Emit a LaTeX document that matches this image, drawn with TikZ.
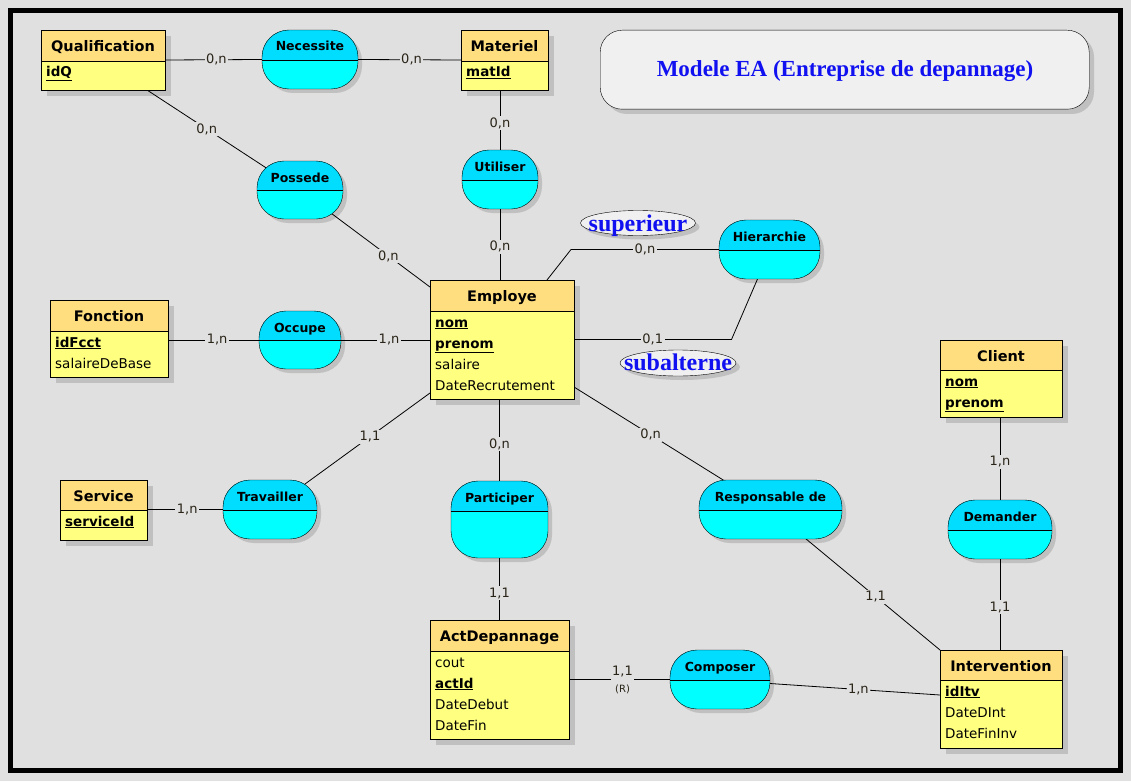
\documentclass[tikz,border=0pt]{standalone}
\usepackage{fontspec}
\setmainfont{DejaVu Sans}
\newfontfamily\titlefont{Liberation Serif}
\pgfdeclarelayer{back}
\pgfdeclarelayer{shade}
\pgfdeclarelayer{links}
\pgfsetlayers{back,shade,links,main}
\definecolor{bgc}{HTML}{E0E0E0}
\definecolor{headc}{HTML}{FFDE80}
\definecolor{bodyc}{HTML}{FFFF80}
\definecolor{cyanb}{HTML}{00FFFF}
\definecolor{cyant}{HTML}{00DDFF}
\definecolor{shadc}{HTML}{C0C0C0}
\definecolor{boxc}{HTML}{F0F0F0}
\definecolor{bluet}{HTML}{1010F0}
\definecolor{cardc}{HTML}{2A2418}
\newcommand\key[1]{\underline{\textbf{#1}}}
\tikzset{
  entbox/.style={rectangle, fill=bodyc, inner sep=0pt, outer sep=0pt},
  assocbox/.style={rectangle, draw, rounded corners=27pt, inner sep=0pt, outer sep=0pt},
  etitle/.style={inner sep=0pt, font=\bfseries\fontsize{14.5}{17}\selectfont},
  aname/.style={inner sep=0pt, font=\bfseries\fontsize{12.5}{15}\selectfont},
  attrib/.style={inner sep=0pt, font=\fontsize{13.5}{16}\selectfont},
  card/.style={fill=bgc, inner sep=1.5pt, text=cardc, font=\fontsize{13}{15}\selectfont},
  titlebox/.style={rectangle, draw, fill=boxc, rounded corners=22pt, inner sep=0pt},
  rolename/.style={inner sep=0pt, text=bluet, font=\titlefont\bfseries\fontsize{24}{28}\selectfont},
  rolefill/.style={draw, fill=boxc},
  link/.style={line width=0.8pt}
}
% #1 name #2 x0 #3 y0 #4 x1 #5 y1 #6 header bottom #7 title #8 attributes
\newcommand\entity[8]{%
  \begin{pgfonlayer}{shade}
    \fill[shadc] (#2+6,#3+6) rectangle (#4+6,#5+6);
  \end{pgfonlayer}
  \node[entbox, minimum width=#4pt-#2pt, minimum height=#5pt-#3pt, anchor=north west] (#1) at (#2,#3) {};
  \fill[headc] (#2,#3) rectangle (#4,#6);
  \draw (#2,#3) rectangle (#4,#5);
  \draw (#2,#6) -- (#4,#6);
  \node[etitle, anchor=base] at ({(#2+#4)/2},#3+21.5) {#7};
  \foreach \attrtext [count=\attrnum from 0] in {#8}
    \node[attrib, anchor=base west] at (#2+5,#6+16+21*\attrnum) {\attrtext};
}
% #1 name #2 x0 #3 y0 #4 x1 #5 y1 #6 middle line #7 text
\newcommand\assoc[7]{%
  \begin{pgfonlayer}{shade}
    \fill[shadc, rounded corners=27pt] (#2+4,#3+4) rectangle (#4+4,#5+4);
  \end{pgfonlayer}
  \begin{scope}[rounded corners=27pt]
    \clip (#2,#3) rectangle (#4,#5);
    \fill[cyanb, sharp corners] (#2,#3) rectangle (#4,#5);
    \fill[cyant, sharp corners] (#2,#3) rectangle (#4,#6);
  \end{scope}
  \node[assocbox, minimum width=#4pt-#2pt, minimum height=#5pt-#3pt, anchor=north west] (#1) at (#2,#3) {};
  \draw (#2,#6) -- (#4,#6);
  \node[aname, anchor=base] at ({(#2+#4)/2},#3+21) {#7};
}
\begin{document}
\begin{tikzpicture}[x=1pt,y=-1pt,line width=0.9pt]
\useasboundingbox (0,0) rectangle (1131,781);
\begin{pgfonlayer}{back}
  \fill[bgc] (0,0) rectangle (1131,781);
\end{pgfonlayer}
\draw[line width=5pt] (10.5,10.5) rectangle (1120.5,770);

% title
\begin{pgfonlayer}{shade}
  \fill[shadc, rounded corners=22pt] (605,35) rectangle (1094,114);
\end{pgfonlayer}
\node[titlebox, minimum width=489pt, minimum height=79pt, anchor=north west] (title) at (600,30) {};
\node[rolename, anchor=base, font=\titlefont\bfseries\fontsize{23}{27}\selectfont] (titletext) at (845,77) {Modele EA (Entreprise de depannage)};

% entities
\entity{qual}{41}{30}{165}{90}{61}{Qualification}{\key{idQ}}
\entity{mat}{461}{30}{548}{90}{61}{Materiel}{\key{matId}}
\entity{emp}{430}{280}{574}{399}{311}{Employe}{\key{nom},\key{prenom},salaire,DateRecrutement}
\entity{fon}{50}{300}{168}{377}{331}{Fonction}{\key{idFcct},salaireDeBase}
\entity{serv}{60}{480}{147}{540}{510}{Service}{\key{serviceId}}
\entity{cli}{940}{340}{1062}{417}{370}{Client}{\key{nom},\key{prenom}}
\entity{int}{940}{650}{1062}{748}{680}{Intervention}{\key{idItv},DateDInt,DateFinInv}
\entity{act}{430}{620}{569}{739}{651}{ActDepannage}{cout,\key{actId},DateDebut,DateFin}

% associations
\assoc{nec}{262}{30}{358}{89}{60}{Necessite}
\assoc{poss}{257}{161}{343}{219}{190}{Possede}
\assoc{uti}{462}{150}{538}{209}{180}{Utiliser}
\assoc{hier}{719}{220}{820}{279}{250}{Hierarchie}
\assoc{occ}{259}{311}{341}{369}{340}{Occupe}
\assoc{trav}{223}{480}{317}{539}{510}{Travailler}
\assoc{part}{451}{481}{548}{558}{511}{Participer}
\assoc{resp}{699}{480}{842}{539}{510}{Responsable de}
\assoc{dem}{948}{500}{1052}{559}{530}{Demander}
\assoc{comp}{670}{650}{770}{709}{680}{Composer}

% role names
\coordinate (supc) at (638,223);
\coordinate (subc) at (678,363);
\begin{pgfonlayer}{shade}
  \fill[shadc] ([shift={(4,4)}]supc) ellipse [x radius=57.5, y radius=12.5];
  \fill[shadc] ([shift={(4,4)}]subc) ellipse [x radius=58, y radius=13];
\end{pgfonlayer}
\path[rolefill] (supc) ellipse [x radius=57.5, y radius=12.5];
\node[rolename, anchor=base] (sup) at (638,231) {superieur};
\path[rolefill] (subc) ellipse [x radius=58, y radius=13];
\node[rolename, anchor=base] (sub) at (678,370) {subalterne};

% connectors
\begin{pgfonlayer}{links}
\draw[link] (qual.east) -- node[card,pos=.53]{0,n} (nec.west);
\draw[link] (nec.east) -- node[card,pos=.52]{0,n} (mat.west);
\draw[link] ([xshift=44pt]qual.south) -- node[card,pos=.39]{0,n} (poss.center);
\draw[link] (poss.center) -- node[card,pos=.68]{0,n} ([yshift=-7pt]emp.north west);
\draw[link] (uti.center |- mat.south) -- node[card,pos=.55]{0,n} (uti.north);
\draw[link] (uti.south) -- node[card,pos=.53]{0,n} (uti.south |- emp.north);
\draw[link] ([xshift=-27pt]emp.north east) -- ([xshift=-3pt]emp.north east |- hier.west) -- node[card]{0,n} (hier.west);
\draw[link] ([xshift=-12pt]hier.south) -- ([xshift=-38pt]hier.south |- emp.east) -- node[card]{0,1} (emp.east);
\draw[link] (fon.east |- occ.west) -- node[card,pos=.54]{1,n} (occ.west);
\draw[link] (occ.east) -- node[card,pos=.54]{1,n} (emp.west |- occ.east);
\draw[link] ([yshift=6pt]emp.south west) -- node[card,pos=.375]{1,1} (trav.center);
\draw[link] (serv.east |- trav.west) -- node[card,pos=.53]{1,n} (trav.west);
\draw[link] (part.north |- emp.south) -- node[card,pos=.55]{0,n} (part.north);
\draw[link] (part.south) -- node[card,pos=.57]{1,1} (part.south |- act.north);
\draw[link] ([yshift=12pt]emp.south east) -- node[card,pos=.39]{0,n} (resp.center);
\draw[link] (resp.center) -- node[card,pos=.62]{1,1} (int.north west);
\draw[link] (dem.north |- cli.south) -- node[card,pos=.54]{1,n} (dem.north);
\draw[link] (dem.south) -- node[card,pos=.53]{1,1} (dem.south |- int.north);
\draw[link] (act.east |- comp.west) -- node[card,pos=.53]{\shortstack{1,1\\[5pt]\fontsize{10}{12}\selectfont(R)}} (comp.west);
\draw[link] ([yshift=-4pt]comp.east) -- node[card,pos=.52]{1,n} ([yshift=4pt]int.west);
\end{pgfonlayer}
\end{tikzpicture}
\end{document}
